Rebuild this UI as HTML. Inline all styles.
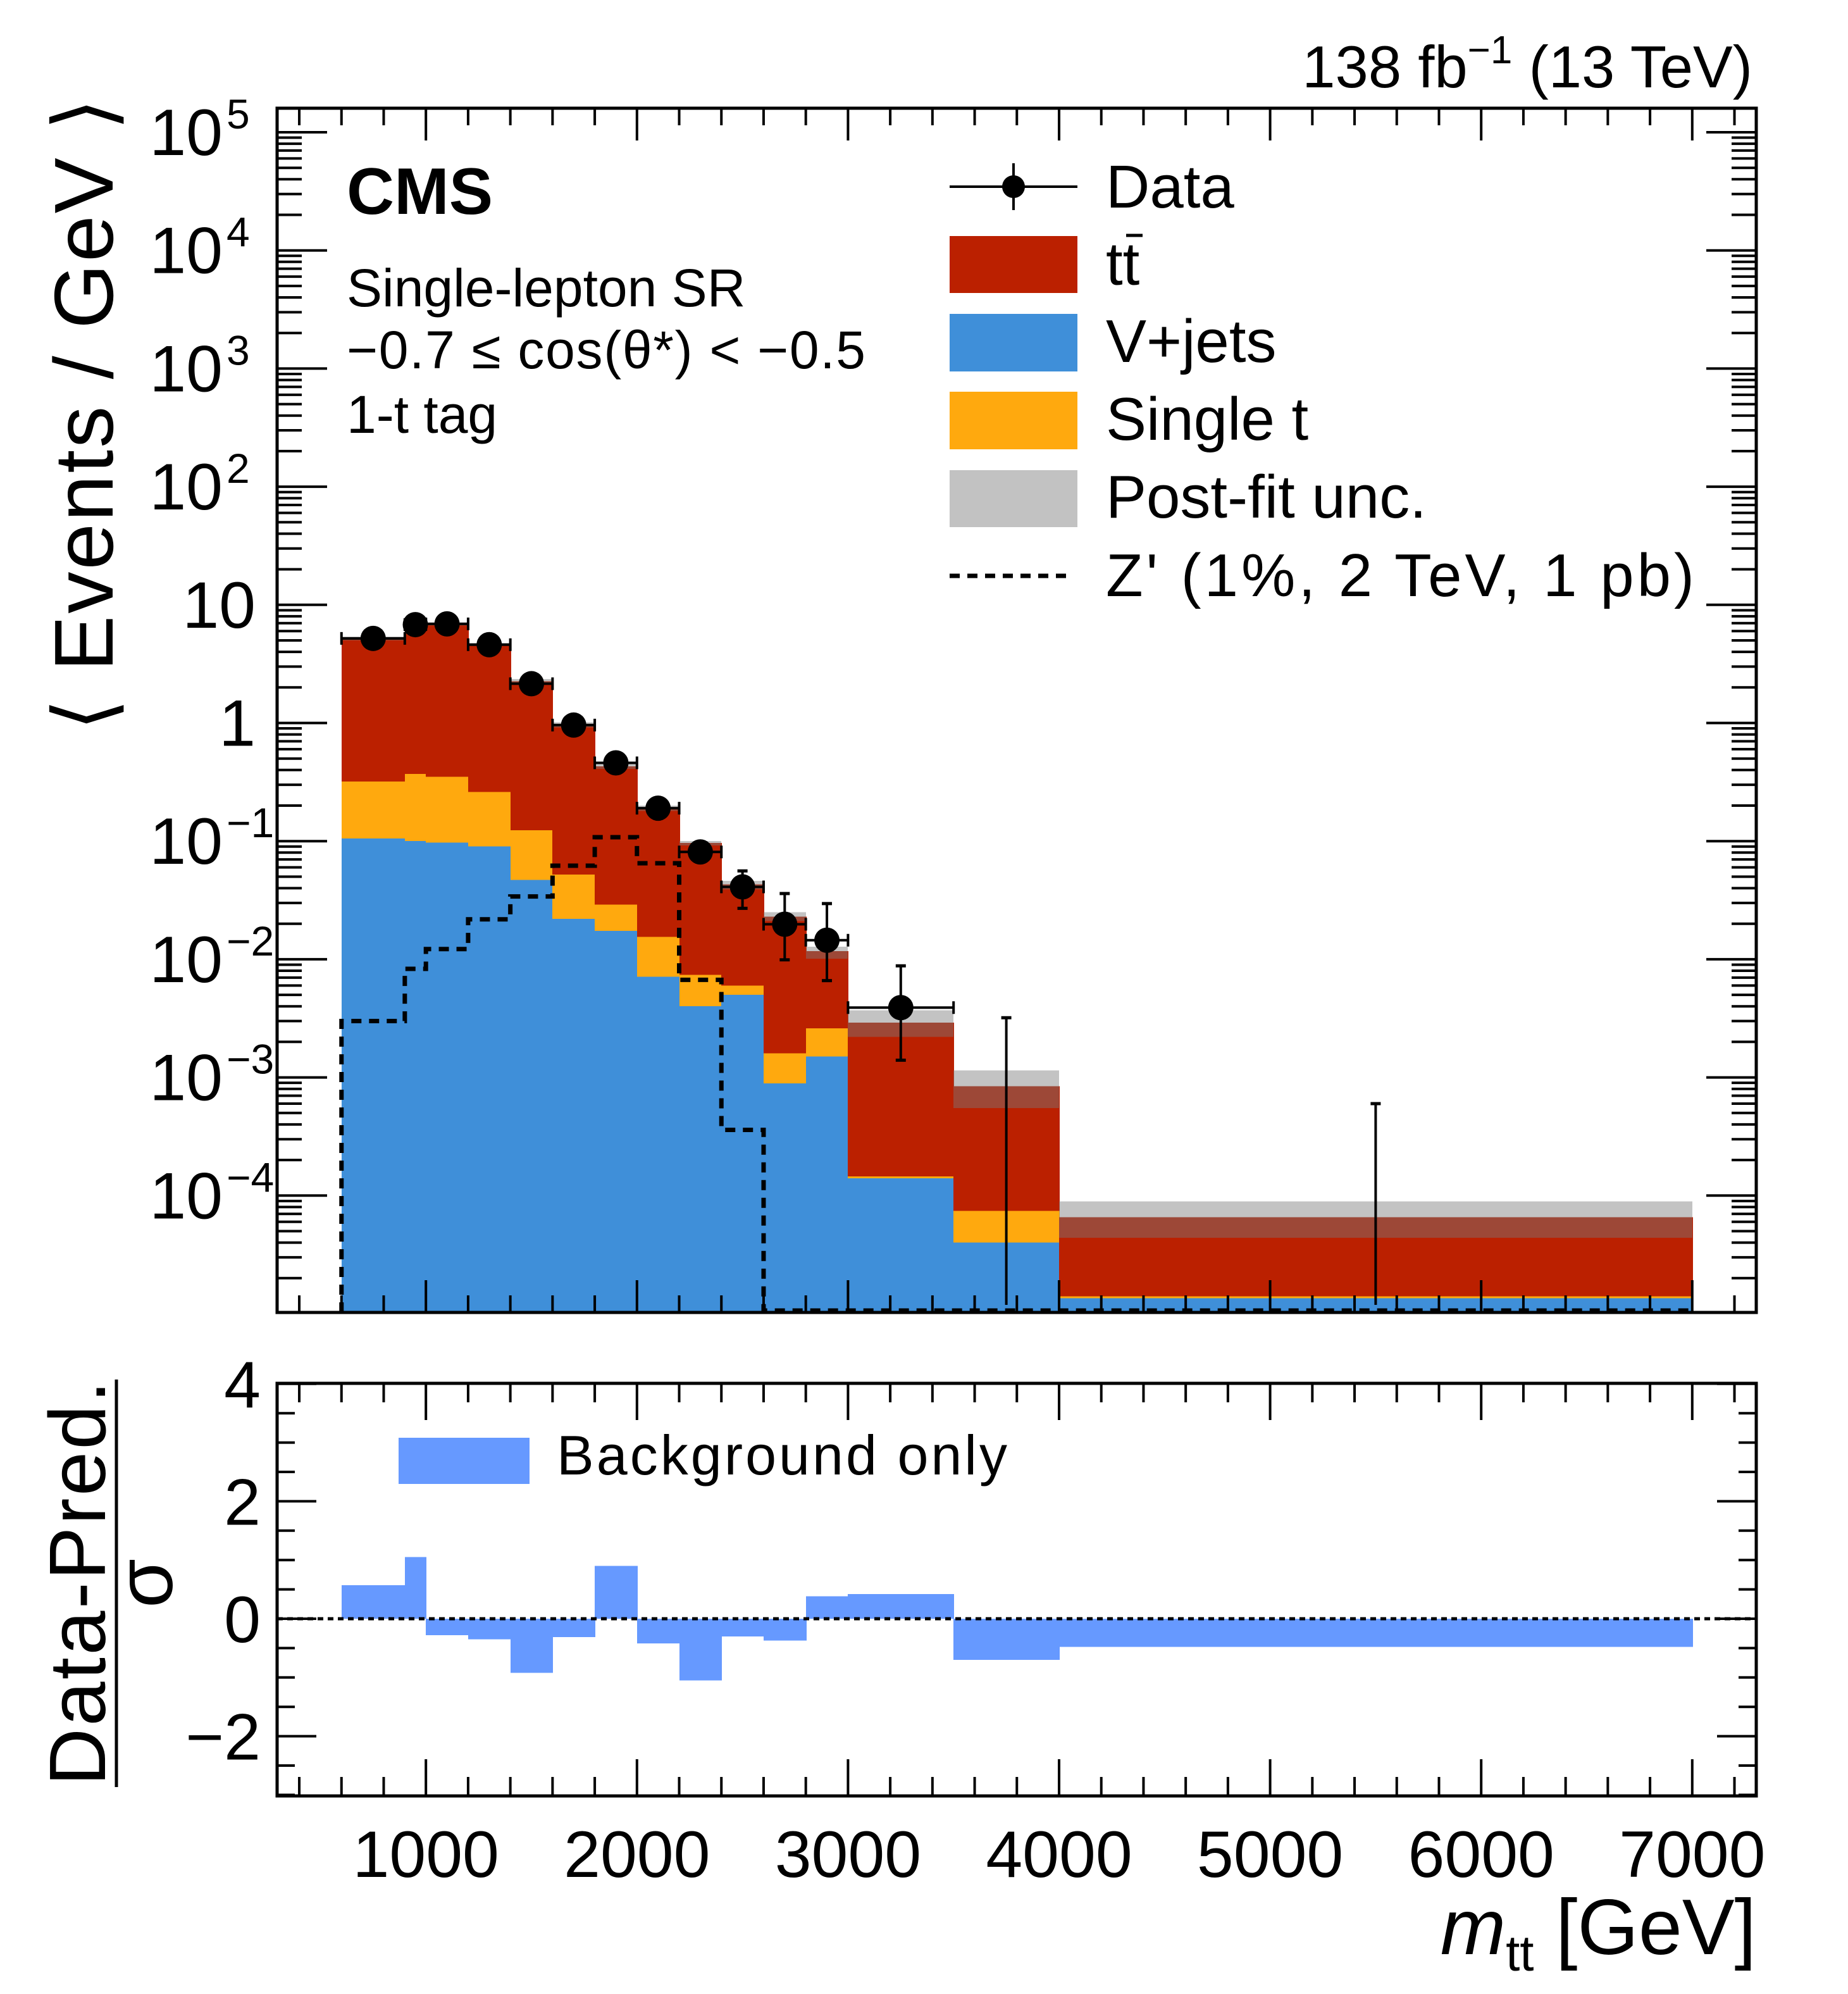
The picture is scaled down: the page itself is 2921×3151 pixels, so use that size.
<!DOCTYPE html>
<html><head><meta charset="utf-8">
<style>
html,body{margin:0;padding:0;background:#fff;}
svg{display:block;font-family:"Liberation Sans",Arial,sans-serif;}
</style></head>
<body>
<svg id="c" width="2921" height="3151" viewBox="0 0 2921 3151" xmlns="http://www.w3.org/2000/svg">
<g id="main" shape-rendering="crispEdges"></g>
<g id="main2"></g>
<g id="ratio" shape-rendering="crispEdges"></g>
<g id="axes"></g>
<text x="2770" y="138" font-size="94" text-anchor="end">138 fb<tspan dy="-38" font-size="62">−1</tspan><tspan dy="38"> (13 TeV)</tspan></text>
<text x="548" y="338" font-size="104" font-weight="bold">CMS</text>
<text x="548" y="484" font-size="84">Single-lepton SR</text>
<text x="548" y="582" font-size="84" textLength="820">−0.7 ≤ cos(θ*) &lt; −0.5</text>
<text x="548" y="684" font-size="84">1-t tag</text>
<g font-size="96">
  <line x1="1501" y1="295" x2="1703" y2="295" stroke="#000" stroke-width="4"/>
  <line x1="1602" y1="258" x2="1602" y2="332" stroke="#000" stroke-width="4"/>
  <circle cx="1602" cy="295" r="18" fill="#000"/>
  <text x="1748" y="328">Data</text>
  <rect x="1501" y="373" width="202" height="90" fill="#bb2000"/>
  <text x="1748" y="450">tt</text>
  <line x1="1780" y1="372" x2="1806" y2="372" stroke="#000" stroke-width="5"/>
  <rect x="1501" y="496" width="202" height="91" fill="#3f8fd9"/>
  <text x="1748" y="572">V+jets</text>
  <rect x="1501" y="619" width="202" height="91" fill="#ffa90e"/>
  <text x="1748" y="695">Single t</text>
  <rect x="1501" y="743" width="202" height="90" fill="#c2c2c2"/>
  <text x="1748" y="818">Post-fit unc.</text>
  <line x1="1501" y1="910" x2="1690" y2="910" stroke="#000" stroke-width="7" stroke-dasharray="16,12"/>
  <text x="1748" y="942" textLength="930">Z' (1%, 2 TeV, 1 pb)</text>
</g>
<g>
  <rect x="630" y="2272" width="207" height="73" fill="#6699ff"/>
  <text x="880" y="2330" font-size="88" textLength="712">Background only</text>
</g>
<text transform="translate(178,655) rotate(-90)" font-size="132" text-anchor="middle" textLength="1000">⟨ Events / GeV ⟩</text>
<g transform="translate(0,2502) rotate(-90)" font-size="126" text-anchor="middle">
  <text x="0" y="166" textLength="640">Data-Pred.</text>
  <line x1="-322" y1="184" x2="322" y2="184" stroke="#000" stroke-width="5"/>
  <text x="0" y="272">σ</text>
</g>
<text x="2776" y="3088" font-size="124" text-anchor="end"><tspan font-style="italic">m</tspan><tspan font-size="80" dy="26">tt</tspan><tspan dy="-26"> [GeV]</tspan></text>
</svg>
<script>
const binEdges=[600,900,1000,1200,1400,1600,1800,2000,2200,2400,2600,2800,3000,3500,4000,7000];
const vjets=[0.105,0.100,0.097,0.090,0.047,0.022,0.0174,0.0071,0.0040,0.0050,0.00089,0.0015,0.00014,0.00004,0.0000135];
const singleT=[0.215,0.27,0.253,0.17,0.077,0.030,0.0116,0.0084,0.0034,0.0010,0.00071,0.0011,0.000005,0.000034,0.0000005];
const ttbar=[4.88,6.43,6.55,4.34,2.13,0.91,0.40,0.175,0.089,0.037,0.0214,0.0091,0.00276,0.00077,0.0000515];
const uncUp=[5.4,7.0,7.1,4.75,2.35,1.01,0.45,0.20,0.10,0.046,0.025,0.0128,0.0037,0.00115,0.000089];
const uncDown=[5.0,6.6,6.7,4.5,2.15,0.92,0.41,0.18,0.092,0.039,0.021,0.0101,0.0022,0.00055,0.000044];
const dataX=[750,950,1100,1300,1500,1700,1900,2100,2300,2500,2700,2900,3250,3750,5500];
const dataY=[5.2,6.8,6.9,4.6,2.15,0.96,0.46,0.19,0.081,0.041,0.0198,0.0145,0.0039,0,0];
const dataUp=[5.5,7.1,7.2,4.9,2.3,1.03,0.51,0.215,0.096,0.056,0.036,0.0296,0.0088,0.0032,0.0006];
const dataDown=[4.9,6.5,6.6,4.3,2.0,0.89,0.41,0.165,0.068,0.027,0.0099,0.0066,0.0014,0,0];
const zprime=[0.0030,0.0083,0.0122,0.0218,0.034,0.062,0.108,0.065,0.0067,0.00036,0,0,0,0,0];
const pulls=[0.57,1.05,-0.28,-0.35,-0.92,-0.31,0.9,-0.42,-1.05,-0.3,-0.37,0.38,0.42,-0.7,-0.48];
const xTicks=[1000,2000,3000,4000,5000,6000,7000];
const yTickLabels=[["10","5"],["10","4"],["10","3"],["10","2"],["10",""],["1",""],["10","−1"],["10","−2"],["10","−3"],["10","−4"]];
const rTicks=[4,2,0,-2];
const rTickLabels=["4","2","0","−2"];

const NS="http://www.w3.org/2000/svg";
const L=438,R=2776,MT=171,MB=2074,RT=2186,RB=2838;
const X=v=>339.6+0.3336*v;
const YL=v=>{const lv=Math.log10(Math.max(v,1e-6));return Math.min(MB,209+(5-lv)*186.7);};
const YR=v=>2558-92.8*v;
function el(tag,attrs,parent){const e=document.createElementNS(NS,tag);for(const k in attrs)e.setAttribute(k,attrs[k]);parent.appendChild(e);return e;}
const main=document.getElementById('main'),main2=document.getElementById('main2'),ratio=document.getElementById('ratio'),axes=document.getElementById('axes');

for(let i=0;i<ttbar.length;i++){
  const x0=Math.round(X(binEdges[i])),x1=Math.round(X(binEdges[i+1]))+1;
  const s1=vjets[i],s2=s1+singleT[i],s3=s2+ttbar[i];
  let r=el('rect',{x:x0,y:YL(s3),width:x1-x0,height:MB-YL(s3),fill:'#bb2000'},main);
  
  
  r=el('rect',{x:x0,y:YL(s2),width:x1-x0,height:MB-YL(s2),fill:'#ffa90e'},main);
  
  
  r=el('rect',{x:x0,y:YL(s1),width:x1-x0,height:MB-YL(s1),fill:'#3f8fd9'},main);
  
  
  r=el('rect',{x:x0,y:YL(uncUp[i]),width:x1-x0-1,height:YL(uncDown[i])-YL(uncUp[i]),fill:'#7a7a7a','fill-opacity':'0.45'},main);
  
  
}
let d='';
for(let i=0;i<zprime.length;i++){
  const y=zprime[i]>0?YL(zprime[i]):MB-3;
  d+=(i==0?'M'+X(binEdges[0])+','+(MB)+' L':' L')+X(binEdges[i])+','+y+' L'+X(binEdges[i+1])+','+y;
}
let zp=el('path',{d:d,fill:'none',stroke:'#000','stroke-width':7,'stroke-dasharray':'16,12'},main2);


for(let i=0;i<dataX.length;i++){
  const g=el('g',{},main2);
  
  
  const cx=X(dataX[i]);
  const yt=YL(dataUp[i]),yb=dataDown[i]>0?YL(dataDown[i]):MB-12;
  el('line',{x1:cx,y1:yt,x2:cx,y2:yb,stroke:'#000','stroke-width':4},g);
  el('line',{x1:cx-8,y1:yt,x2:cx+8,y2:yt,stroke:'#000','stroke-width':5},g);
  if(dataY[i]>0){
    const cy=YL(dataY[i]);
    el('line',{x1:cx-8,y1:yb,x2:cx+8,y2:yb,stroke:'#000','stroke-width':5},g);
    const x0=X(binEdges[i]),x1=X(binEdges[i+1]);
    el('line',{x1:x0,y1:cy,x2:x1,y2:cy,stroke:'#000','stroke-width':4},g);
    el('line',{x1:x0,y1:cy-10,x2:x0,y2:cy+10,stroke:'#000','stroke-width':4},g);
    el('line',{x1:x1,y1:cy-10,x2:x1,y2:cy+10,stroke:'#000','stroke-width':4},g);
    el('circle',{cx:cx,cy:cy,r:20,fill:'#000'},g);
  }
}
for(let i=0;i<pulls.length;i++){
  const x0=Math.round(X(binEdges[i])),x1=Math.round(X(binEdges[i+1]))+1;
  const y0=YR(0),y1=YR(pulls[i]);
  const r=el('rect',{x:x0,y:Math.min(y0,y1),width:x1-x0,height:Math.abs(y1-y0),fill:'#6699ff'},ratio);
  
  
}
const zl=el('line',{x1:L,y1:YR(0),x2:R,y2:YR(0),stroke:'#000','stroke-width':5,'stroke-dasharray':'9,7'},axes);



for(const [t,b] of [[MT,MB],[RT,RB]]){
  const f=el('rect',{x:L,y:t,width:R-L,height:b-t,fill:'none',stroke:'#000','stroke-width':5},axes);
  
  
}
for(let v=400;v<=7200;v+=200){
  const x=X(v);
  const maj=v%1000===0;
  el('line',{x1:x,y1:MT,x2:x,y2:MT+(maj?51:27),stroke:'#000','stroke-width':4},axes);
  el('line',{x1:x,y1:MB,x2:x,y2:MB-(maj?51:27),stroke:'#000','stroke-width':4},axes);
  el('line',{x1:x,y1:RT,x2:x,y2:RT+(maj?58:30),stroke:'#000','stroke-width':4},axes);
  el('line',{x1:x,y1:RB,x2:x,y2:RB-(maj?58:30),stroke:'#000','stroke-width':4},axes);
}
xTicks.forEach(v=>{
  const t=el('text',{x:X(v),y:2966,'font-size':104,'text-anchor':'middle'},axes);
  t.textContent=v;
  
  
});
for(let e=-5;e<=5;e++){
  for(let m=1;m<10;m++){
    const v=m*Math.pow(10,e);const y=YL(v);
    if(y<MT||y>=MB)continue;
    const len=m===1?79:39;
    el('line',{x1:L,y1:y,x2:L+len,y2:y,stroke:'#000','stroke-width':4},axes);
    el('line',{x1:R,y1:y,x2:R-len,y2:y,stroke:'#000','stroke-width':4},axes);
  }
}
yTickLabels.forEach((lab,i)=>{
  const y=YL(Math.pow(10,5-i));
  const t=el('text',{x:lab[1]?352:404,y:y+36,'font-size':104,'text-anchor':'end'},axes);
  t.textContent=lab[0];
  
  
  if(lab[1]){
    const s=el('text',{x:358,y:y-6,'font-size':66},axes);
    s.textContent=lab[1];
    
    
  }
});
for(let v=-3;v<=4;v+=0.5){
  const y=YR(v);const maj=Math.abs(v%2)<1e-9;
  const len=maj?62:28;
  el('line',{x1:L,y1:y,x2:L+len,y2:y,stroke:'#000','stroke-width':4},axes);
  el('line',{x1:R,y1:y,x2:R-len,y2:y,stroke:'#000','stroke-width':4},axes);
}
rTicks.forEach((v,i)=>{
  const t=el('text',{x:412,y:YR(v)+37,'font-size':104,'text-anchor':'end'},axes);
  t.textContent=rTickLabels[i];
  
  
});
</script>
</body></html>
